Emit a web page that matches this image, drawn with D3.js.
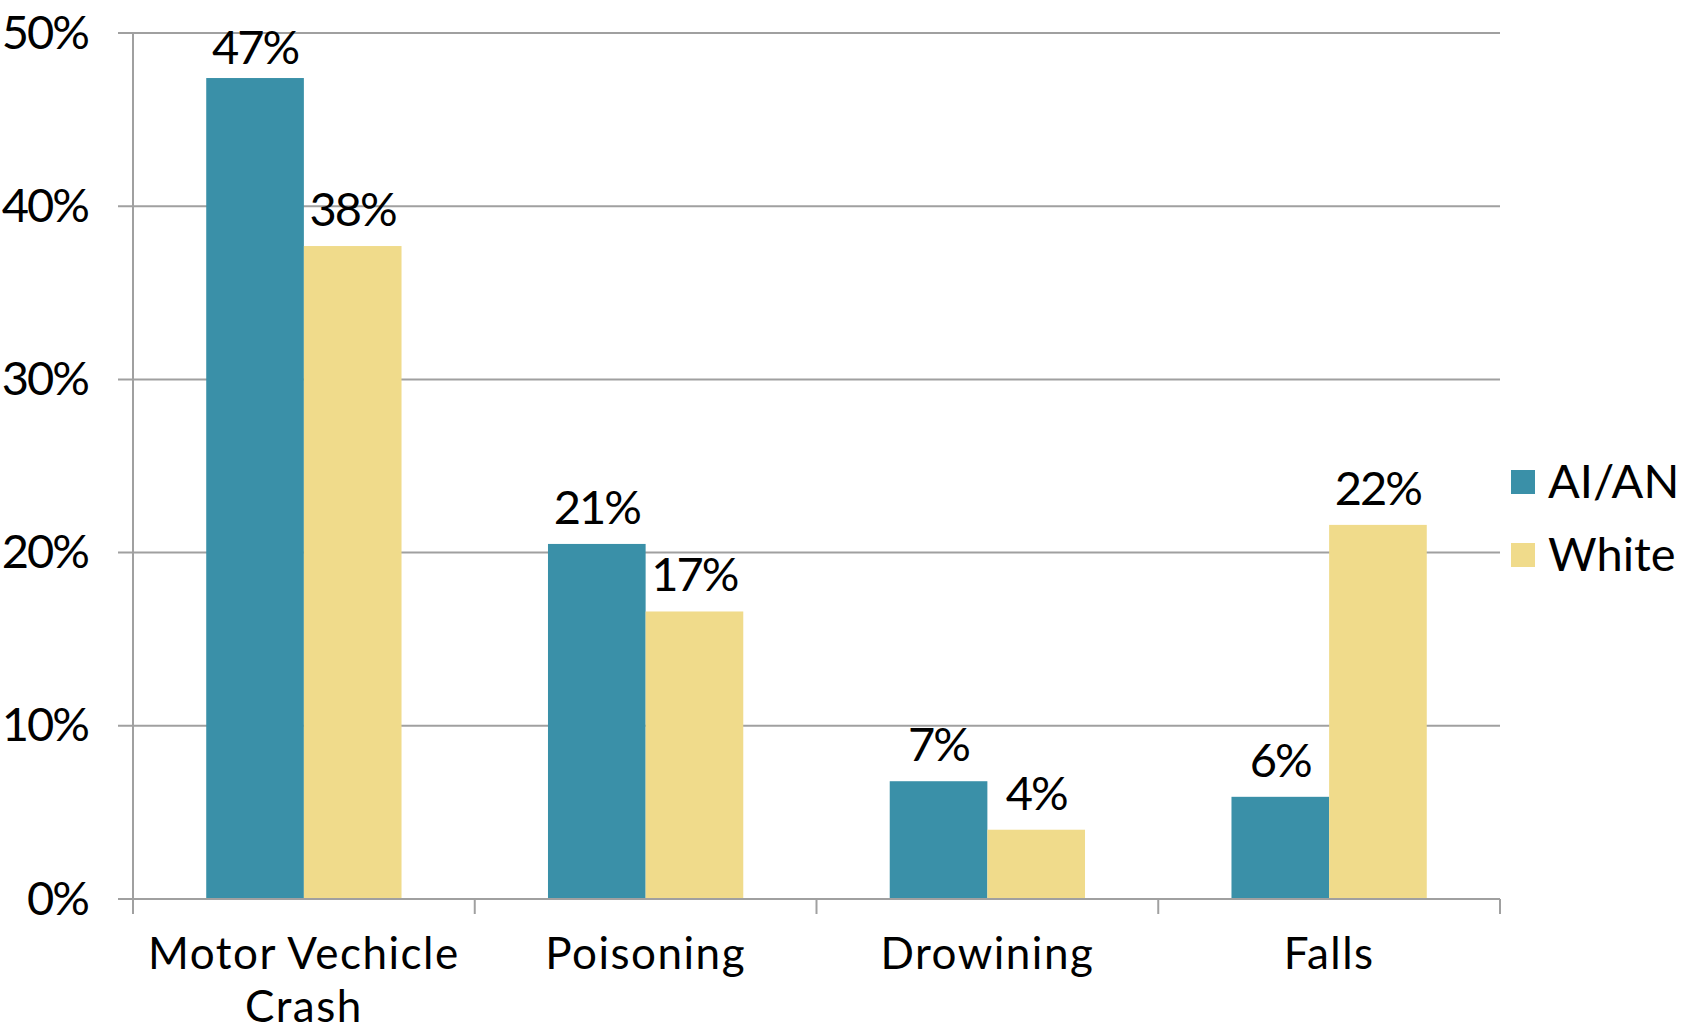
<!DOCTYPE html>
<html>
<head>
<meta charset="utf-8">
<script src="https://d3js.org/d3.v7.min.js"></script>
<style>
    body { margin: 0; background: #fff; }
    text { font-family: Lato, "Open Sans", sans-serif; fill: #000; }
</style>
</head>
<body>
<div id="chart1"></div>
<script>
// data (percent)
var categories = ["Motor Vechicle Crash", "Poisoning", "Drowining", "Falls"];
var categoryLines = [["Motor Vechicle", "Crash"], ["Poisoning"], ["Drowining"], ["Falls"]];
var seriesNames = ["AI/AN", "White"];
var aianValues = [47.4, 20.5, 6.8, 5.9];
var whiteValues = [37.7, 16.6, 4.0, 21.6];
var valueLabels = [["47%", "21%", "7%", "6%"], ["38%", "17%", "4%", "22%"]];
var yTicks = [0, 10, 20, 30, 40, 50];

var param = {
    parentSelector: "#chart1",
    width: 1690,
    height: 1034,
    colors: ["#3a90a8", "#f0db8b"]
};

function d3sChart(param) {
    var margin = {top: 33, right: 190, bottom: 135, left: 133},
        width = param.width - margin.left - margin.right,
        height = param.height - margin.top - margin.bottom;

    var values = [aianValues, whiteValues];

    //---- scales
    var x0 = d3.scaleBand().domain(categories).range([0, width]).padding(0);
    var x1 = d3.scaleBand().domain(seriesNames).range([0, x0.bandwidth()])
        .paddingInner(0).paddingOuter(0.75);
    var y = d3.scaleLinear().domain([0, 50]).range([height, 0]);

    var svg = d3.select(param.parentSelector).append("svg")
        .attr("width", param.width).attr("height", param.height);

    var g = svg.append("g").attr("transform", "translate(" + margin.left + "," + margin.top + ")");

    //---- gridlines (start at the outer tick, left of the axis)
    g.append("g").selectAll("line").data(yTicks).enter()
        .append("line")
        .attr("x1", -15).attr("x2", width)
        .attr("y1", function(d) { return y(d); }).attr("y2", function(d) { return y(d); })
        .style("stroke", "#a0a0a0").style("stroke-width", 2);

    // y axis line
    g.append("line").attr("x1", 0).attr("x2", 0).attr("y1", 0).attr("y2", height + 15)
        .style("stroke", "#a0a0a0").style("stroke-width", 2);

    // y tick labels
    var yAxis = d3.axisLeft(y).tickValues(yTicks).tickSize(0).tickPadding(45)
        .tickFormat(function(d) { return d + "%"; });
    var ya = g.append("g").call(yAxis);
    ya.select(".domain").remove();
    ya.selectAll("text").style("font-size", "47px").style("letter-spacing", "-2px")
        .attr("font-family", null);

    //---- bars
    for (var j = 0; j < seriesNames.length; j += 1) {
        var sg = g.append("g");
        sg.selectAll("rect").data(values[j]).enter()
            .append("rect")
            .attr("x", function(d, i) { return x0(categories[i]) + x1(seriesNames[j]); })
            .attr("y", function(d) { return y(d); })
            .attr("width", x1.bandwidth())
            .attr("height", function(d) { return height - y(d); })
            .style("fill", param.colors[j]);

        // value labels, kept inside the plot area
        sg.selectAll("text").data(values[j]).enter()
            .append("text")
            .attr("x", function(d, i) { return x0(categories[i]) + x1(seriesNames[j]) + x1.bandwidth() / 2; })
            .attr("y", function(d) { return Math.max(y(d) - 20, 31); })
            .attr("text-anchor", "middle").style("font-size", "47px").style("letter-spacing", "-2px")
            .text(function(d, i) { return valueLabels[j][i]; });
    }

    //---- x axis: baseline and ticks on category borders
    g.append("line").attr("x1", 0).attr("x2", width).attr("y1", height).attr("y2", height)
        .style("stroke", "#a0a0a0").style("stroke-width", 2);
    var borders = categories.map(function(c) { return x0(c); }).concat([width]);
    g.append("g").selectAll("line").data(borders).enter()
        .append("line")
        .attr("x1", function(d) { return d; }).attr("x2", function(d) { return d; })
        .attr("y1", height).attr("y2", height + 15)
        .style("stroke", "#a0a0a0").style("stroke-width", 2);

    // category labels (one text per line)
    categories.forEach(function(c, i) {
        categoryLines[i].forEach(function(line, k) {
            g.append("text")
                .attr("x", x0(c) + x0.bandwidth() / 2)
                .attr("y", height + 70 + k * 53)
                .attr("text-anchor", "middle")
                .style("font-size", "44px").style("letter-spacing", "1.5px")
                .text(line);
        });
    });

    //---- legend
    var legend = svg.append("g").attr("transform", "translate(1511,470)");
    legend.selectAll("rect").data(seriesNames).enter()
        .append("rect").attr("x", 0).attr("y", function(d, i) { return i * 73; })
        .attr("width", 24).attr("height", 24)
        .style("fill", function(d, i) { return param.colors[i]; });
    legend.selectAll("text").data(seriesNames).enter()
        .append("text").attr("x", 37).attr("y", function(d, i) { return i * 73 + 28; })
        .style("font-size", "47px")
        .text(function(d) { return d; });
}
d3sChart(param);
</script>
</body>
</html>
